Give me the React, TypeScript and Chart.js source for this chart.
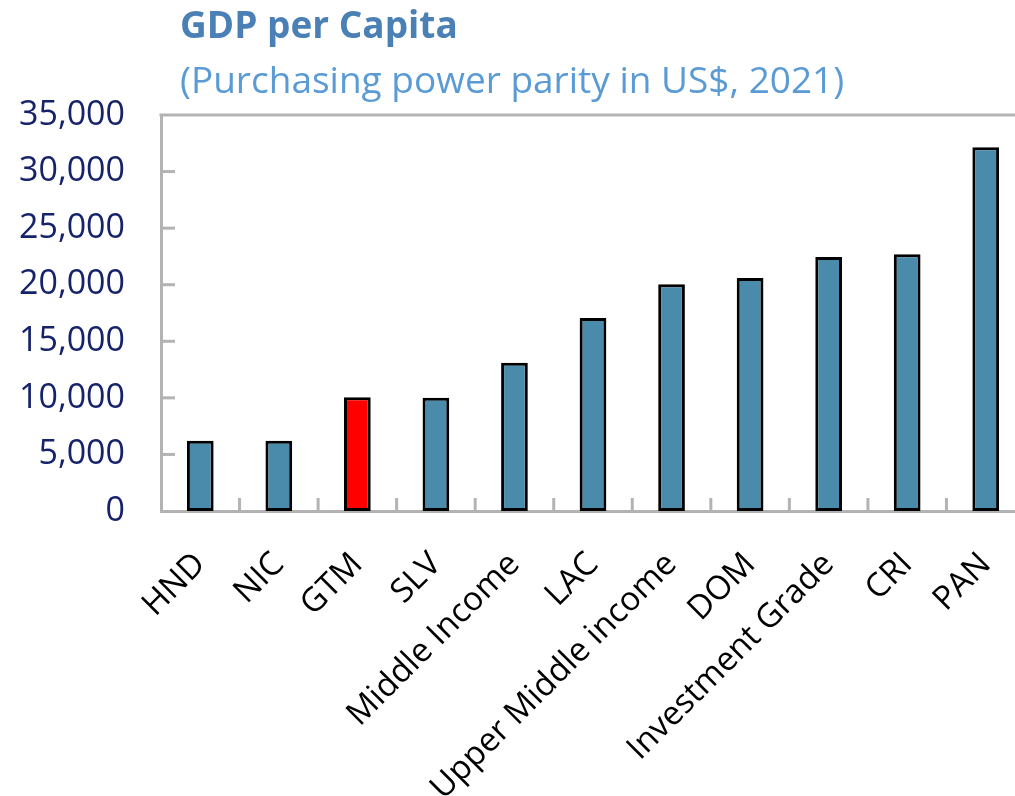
import { useEffect, useRef } from "react";
import { Chart, registerables } from "chart.js";

Chart.register(...registerables);

const TITLE = "GDP per Capita";
const SUBTITLE = "(Purchasing power parity in US$, 2021)";

const categories = [
  "HND",
  "NIC",
  "GTM",
  "SLV",
  "Middle Income",
  "LAC",
  "Upper Middle income",
  "DOM",
  "Investment Grade",
  "CRI",
  "PAN",
];
const gdpValues = [6200, 6200, 10050, 10000, 13100, 17050, 20050, 20600, 22450, 22700, 32150];
const highlighted = ["GTM"];

const yMin = 0;
const yMax = 35000;
const yStep = 5000;

const BAR_COLOR = "#4a8aab";
const HIGHLIGHT_COLOR = "#ff0000";
const AXIS_COLOR = "#b3b3b3";
const FONT = "'Open Sans', 'Noto Sans', sans-serif";

const framePlugin = {
  id: "frame",
  afterDraw(chart: any) {
    const { ctx, chartArea } = chart;
    const x = chart.scales.x;
    const y = chart.scales.y;
    ctx.save();
    ctx.strokeStyle = AXIS_COLOR;
    ctx.lineWidth = 3;
    // top border
    ctx.beginPath();
    ctx.moveTo(chartArea.left - 1.5, chartArea.top);
    ctx.lineTo(chartArea.right, chartArea.top);
    ctx.stroke();
    // y ticks (inward)
    y.ticks.forEach((t: any) => {
      const py = y.getPixelForValue(t.value);
      if (py >= chartArea.bottom - 1 || py <= chartArea.top + 1) return;
      ctx.beginPath();
      ctx.moveTo(chartArea.left, py);
      ctx.lineTo(chartArea.left + 14, py);
      ctx.stroke();
    });
    // x ticks at category boundaries (inward)
    const n = x.ticks.length;
    for (let i = 0; i < n; i++) {
      const px =
        i < n - 1
          ? (x.getPixelForTick(i) + x.getPixelForTick(i + 1)) / 2
          : x.getPixelForTick(i) + (x.getPixelForTick(i) - x.getPixelForTick(i - 1)) / 2;
      ctx.beginPath();
      ctx.moveTo(px, chartArea.bottom);
      ctx.lineTo(px, chartArea.bottom - 13);
      ctx.stroke();
    }
    // header text
    ctx.textAlign = "left";
    ctx.textBaseline = "alphabetic";
    ctx.fillStyle = "#4a80b5";
    ctx.font = `bold 37px ${FONT}`;
    ctx.fillText(TITLE, 180, 38);
    ctx.fillStyle = "#5b9bd5";
    ctx.font = `37px ${FONT}`;
    ctx.fillText(SUBTITLE, 180, 93);
    ctx.restore();
  },
};

export default function App() {
  const ref = useRef<HTMLCanvasElement | null>(null);

  useEffect(() => {
    if (!ref.current) return;
    const chart = new Chart(ref.current, {
      type: "bar",
      data: {
        labels: categories,
        datasets: [
          {
            data: gdpValues,
            backgroundColor: categories.map((c) =>
              highlighted.includes(c) ? HIGHLIGHT_COLOR : BAR_COLOR
            ),
            borderColor: "#000000",
            borderWidth: 3,
            borderSkipped: false,
            categoryPercentage: 1,
            barPercentage: 0.34,
          },
        ],
      },
      options: {
        responsive: false,
        animation: false,
        layout: { padding: { top: 115, right: 5, left: 0, bottom: 0 } },
        plugins: {
          legend: { display: false },
          tooltip: { enabled: false },
          title: { display: false },
        },
        scales: {
          x: {
            grid: { display: false, drawTicks: false },
            border: { display: true, color: AXIS_COLOR, width: 3 },
            ticks: {
              color: "#000000",
              font: { family: FONT, size: 33 },
              maxRotation: 45,
              minRotation: 45,
              padding: 34,
              autoSkip: false,
            },
            afterFit: (scale: any) => {
              scale.paddingLeft = 0;
              scale.paddingRight = 0;
              scale.height = 285;
            },
          },
          y: {
            min: yMin,
            max: yMax,
            grid: { display: false, drawTicks: false },
            border: { display: true, color: AXIS_COLOR, width: 3 },
            ticks: {
              stepSize: yStep,
              color: "#16226a",
              font: { family: FONT, size: 34 },
              padding: 36,
              callback: (v: any) => Number(v).toLocaleString("en-US"),
            },
            afterFit: (scale: any) => {
              scale.width = 161;
            },
          },
        },
      },
      plugins: [framePlugin],
    });
    return () => chart.destroy();
  }, []);

  return (
    <div
      style={{
        position: "fixed",
        left: 0,
        top: 0,
        width: 1015,
        height: 796,
        overflow: "hidden",
        background: "#ffffff",
      }}
    >
      <canvas ref={ref} width={1030} height={796} style={{ display: "block" }} />
    </div>
  );
}
